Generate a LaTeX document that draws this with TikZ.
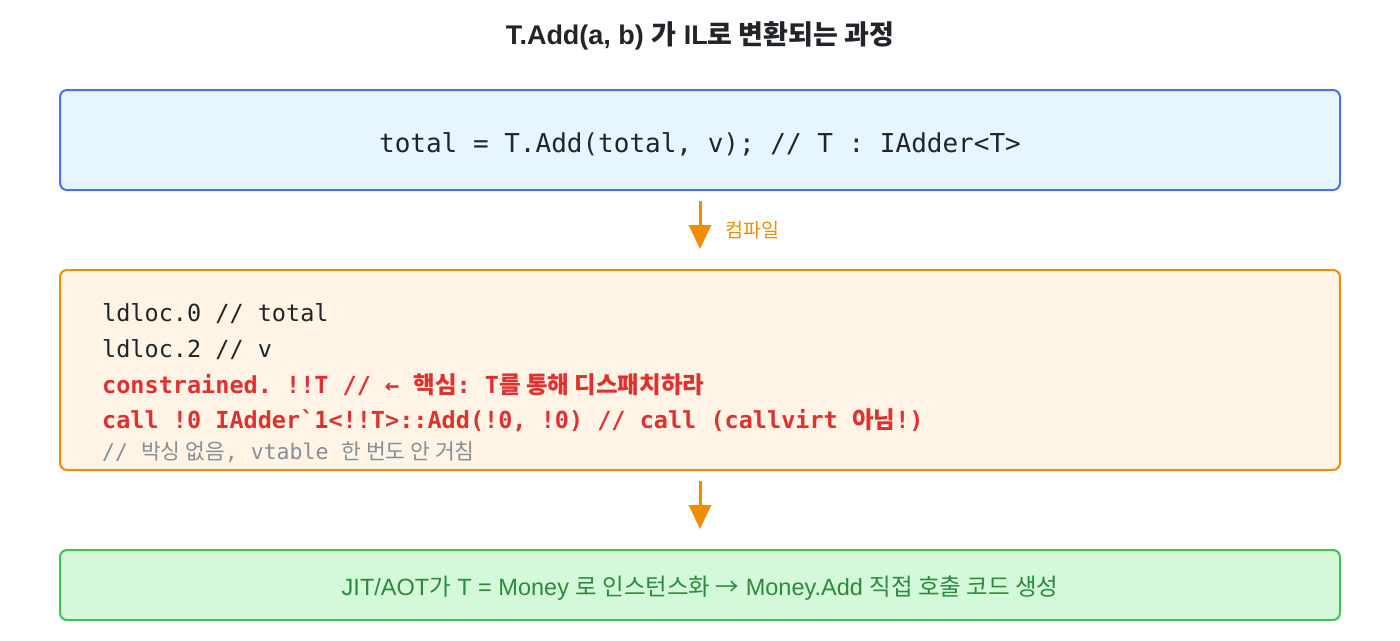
\documentclass[tikz,border=0pt]{standalone}
\usepackage{fontspec}
\setmainfont{Liberation Sans}
\setmonofont{DejaVu Sans Mono}
\newfontfamily\kr{Noto Sans CJK KR}
\usetikzlibrary{arrows.meta,positioning}

\definecolor{inkblack}{HTML}{212529}
\definecolor{srcline}{HTML}{4C6EF5}
\definecolor{srcfill}{HTML}{E7F5FF}
\definecolor{illine}{HTML}{F08C00}
\definecolor{ilfill}{HTML}{FFF4E6}
\definecolor{jitline}{HTML}{40C057}
\definecolor{jitfill}{HTML}{D3F9D8}
\definecolor{jittext}{HTML}{2B8A3E}
\definecolor{hotred}{HTML}{E03131}
\definecolor{dimgray}{HTML}{868E96}

\tikzset{
    stagebox/.style={draw, line width=2pt, rounded corners=7pt, minimum width=1280pt},
    codeline/.style={anchor=base west, inner sep=0pt, font=\ttfamily\fontsize{23.5}{28}\selectfont, text=inkblack},
    flow/.style={draw=illine, line width=3pt, -{Triangle[width=22pt,length=24pt]}, shorten <=10pt, shorten >=20pt}
}

\begin{document}
\begin{tikzpicture}[x=1pt,y=-1pt]
    %\draw[help lines] (0,0) grid[step=100] (1400,640);
    \useasboundingbox (0,0) rectangle (1400,640);
    \node[font=\bfseries\fontsize{27}{32}\selectfont, text=inkblack] (title) at (700,36)
        {T.Add(a, b) {\kr\bfseries 가} IL{\kr\bfseries 로 변환되는 과정}};
    \node[stagebox, draw=srcline, fill=srcfill, minimum height=100pt, text height=24pt, text depth=0pt,
        font=\ttfamily\fontsize{26}{30}\selectfont, text=inkblack] (src) at (700,140)
        {total = T.Add(total, v); // T : IAdder<T>};
    \node[stagebox, draw=illine, fill=ilfill, minimum height=200pt] (il) at (700,370) {};
    \node[stagebox, draw=jitline, fill=jitfill, minimum height=70pt, text height=20pt, text depth=0pt,
        font=\fontsize{23.5}{27}\selectfont, text=jittext] (jit) at (700,585)
        {JIT/AOT{\kr 가} T = Money {\kr 로 인스턴스화 →} Money.Add {\kr 직접 호출 코드 생성}};
    % IL lines
    \node[codeline] (ld0) at (102,321) {ldloc.0 // total};
    \node[codeline] (ld2) at (102,357) {ldloc.2 // v};
    \node[codeline, text=hotred, font=\ttfamily\bfseries\fontsize{23.5}{28}\selectfont] (cons) at (102,393)
        {constrained. !!T // ← {\kr\bfseries 핵심}: T{\kr\bfseries 를 통해 디스패치하라}};
    \node[codeline, text=hotred, font=\ttfamily\bfseries\fontsize{23.5}{28}\selectfont] (call) at (102,428)
        {call !0 IAdder\textasciigrave 1<!!T>::Add(!0, !0) // call (callvirt {\kr\bfseries 아님}!)};
    \node[codeline, text=dimgray, font=\ttfamily\fontsize{21.5}{25}\selectfont] (box) at (102,459)
        {// {\kr 박싱 없음}, vtable {\kr 한 번도 안 거침}};
    % arrows
    \draw[flow] (src) -- node[right=21pt, text=illine, font=\fontsize{19.5}{23}\selectfont] (compile) {\kr 컴파일} (il);
    \draw[flow] (il) -- (jit);
\end{tikzpicture}
\end{document}
